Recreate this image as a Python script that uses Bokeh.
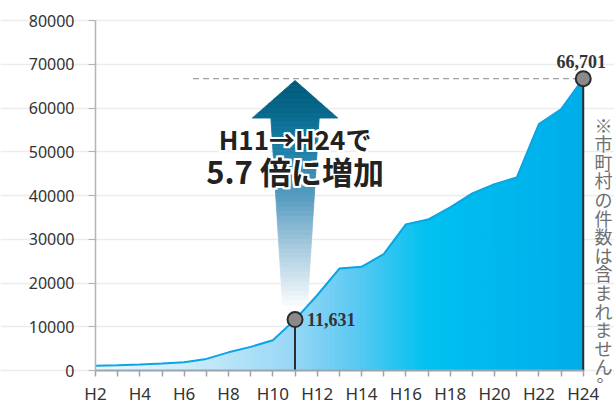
from bokeh.plotting import figure
from bokeh.models import Label, FixedTicker, NumeralTickFormatter, Range1d
from bokeh.embed import file_html
from bokeh.resources import INLINE

# ---- data ----
years = [2, 3, 4, 5, 6, 7, 8, 9, 10, 11, 12, 13, 14, 15, 16, 17, 18, 19, 20, 21, 22, 23, 24]
values = [1100, 1200, 1350, 1600, 1900, 2650, 4150, 5400, 6900, 11631, 17200, 23300,
          23700, 26600, 33400, 34500, 37300, 40500, 42600, 44100, 56300, 59700, 66701]
tick_labels = {y: ("H%d" % y if y % 2 == 0 else "") for y in years}
y_ticks = [0, 10000, 20000, 30000, 40000, 50000, 60000, 70000, 80000]
start_idx = 9   # H11
end_idx = 22    # H24
note_text = "※市町村の件数は含まれません。"
headline1 = "H11→H24で"
headline2 = "5.7 倍に増加"

# ---- style helpers ----
def lerp_stops(stops, x):
    if x <= stops[0][0]:
        return stops[0][1]
    for (xa, ca), (xb, cb) in zip(stops[:-1], stops[1:]):
        if xa <= x <= xb:
            t = (x - xa) / (xb - xa)
            return tuple(int(round(a + (b - a) * t)) for a, b in zip(ca, cb))
    return stops[-1][1]

def hexc(c):
    return "#%02x%02x%02x" % c

area_stops = [(2, (236, 247, 253)), (6, (206, 236, 250)), (11, (150, 215, 246)),
              (14, (85, 200, 242)), (17, (0, 193, 240)), (20, (0, 184, 237)),
              (24, (0, 173, 233))]

# ---- layout: the plot frame fills the whole canvas, axes are pinned at data positions ----
W, H = 614, 405
AXIS_PX = 95          # page column of the value axis (year H2)
TOP_PX = 20           # page row of 80000
ZERO_PX = 370         # page row of 0
X_PX_PER_YEAR = 22.17
Y_PX_PER_UNIT = (ZERO_PX - TOP_PX) / 80000.0
x_lo = years[0] - AXIS_PX / X_PX_PER_YEAR
x_hi = years[0] + (W - AXIS_PX) / X_PX_PER_YEAR
y_lo = -(H - ZERO_PX) / Y_PX_PER_UNIT
y_hi = 80000 + TOP_PX / Y_PX_PER_UNIT

p = figure(width=W, height=H, output_backend="svg", toolbar_location=None,
           x_range=Range1d(x_lo, x_hi), y_range=Range1d(y_lo, y_hi),
           min_border=0, min_border_left=0, min_border_right=0,
           min_border_top=0, min_border_bottom=0)
p.outline_line_color = None
p.background_fill_color = "white"
p.border_fill_color = "white"

# grid
p.xgrid.grid_line_color = None
p.ygrid.grid_line_color = "#ececec"
p.ygrid.grid_line_width = 1.5
p.ygrid.ticker = FixedTicker(ticks=y_ticks)
p.ygrid.bounds = (2, 24.1)

# axes
p.yaxis.fixed_location = years[0]
p.yaxis.ticker = FixedTicker(ticks=y_ticks)
p.yaxis.formatter = NumeralTickFormatter(format="0")
p.yaxis.bounds = (0, 80000)
p.yaxis.axis_line_color = "#b4b4b4"
p.yaxis.axis_line_width = 1.5
p.yaxis.major_tick_line_color = "#b4b4b4"
p.yaxis.major_tick_out = 7
p.yaxis.major_tick_in = 0
p.yaxis.minor_tick_line_color = None
p.yaxis.major_label_text_font = "Noto Sans"
p.yaxis.major_label_text_font_size = "16px"
p.yaxis.major_label_text_color = "#333333"
p.yaxis.major_label_standoff = 14

p.xaxis.fixed_location = 0
p.xaxis.ticker = FixedTicker(ticks=years)
p.xaxis.major_label_overrides = tick_labels
p.xaxis.bounds = (2, 24)
p.xaxis.axis_line_color = "#9aa5ad"
p.xaxis.axis_line_width = 2
p.xaxis.major_tick_line_color = "#9aa5ad"
p.xaxis.major_tick_line_width = 1.5
p.xaxis.major_tick_out = 6
p.xaxis.major_tick_in = 0
p.xaxis.minor_tick_line_color = None
p.xaxis.major_label_text_font = "Noto Sans"
p.xaxis.major_label_text_font_size = "17px"
p.xaxis.major_label_text_color = "#333333"
p.xaxis.major_label_standoff = 5

# ---- big arrow (behind area) ----
ax = years[start_idx]
ARROW_TIP, ARROW_NECK, ARROW_BOTTOM = 66300, 57700, 14900
HEAD_HW, SHAFT_TOP_HW, SHAFT_BOT_HW = 1.93, 1.09, 0.56
head_stops = [(0, (0, 88, 122)), (1, (10, 108, 143))]
shaft_stops = [(0, (10, 110, 148)), (0.17, (30, 127, 166)), (0.44, (91, 159, 194)),
               (0.65, (156, 195, 218)), (0.87, (213, 230, 240)), (1, (250, 252, 254))]
axs, ays, acs = [], [], []
NH = 8
for k in range(NH):
    f0, f1 = k / NH, (k + 1) / NH
    y0 = ARROW_TIP + (ARROW_NECK - ARROW_TIP) * f0
    y1 = ARROW_TIP + (ARROW_NECK - ARROW_TIP) * f1
    axs.append([ax - HEAD_HW * f0, ax + HEAD_HW * f0, ax + HEAD_HW * f1, ax - HEAD_HW * f1])
    ays.append([y0, y0, y1, y1])
    acs.append(hexc(lerp_stops(head_stops, (f0 + f1) / 2)))
NS = 40
for k in range(NS):
    f0, f1 = k / NS, (k + 1) / NS
    y0 = ARROW_NECK + (ARROW_BOTTOM - ARROW_NECK) * f0
    y1 = ARROW_NECK + (ARROW_BOTTOM - ARROW_NECK) * f1
    w0 = SHAFT_TOP_HW + (SHAFT_BOT_HW - SHAFT_TOP_HW) * f0
    w1 = SHAFT_TOP_HW + (SHAFT_BOT_HW - SHAFT_TOP_HW) * f1
    axs.append([ax - w0, ax + w0, ax + w1, ax - w1])
    ays.append([y0, y0, y1, y1])
    acs.append(hexc(lerp_stops(shaft_stops, (f0 + f1) / 2)))
p.patches(axs, ays, fill_color=acs, line_color=acs, line_width=0.8)

# ---- gradient area ----
xs, ys, cs = [], [], []
SUB = 5
for i in range(len(years) - 1):
    xa0, xb0 = years[i], years[i + 1]
    ya0, yb0 = values[i], values[i + 1]
    for k in range(SUB):
        t0, t1 = k / SUB, (k + 1) / SUB
        x0 = xa0 + (xb0 - xa0) * t0
        x1 = xa0 + (xb0 - xa0) * t1
        y0 = ya0 + (yb0 - ya0) * t0
        y1 = ya0 + (yb0 - ya0) * t1
        xs.append([x0, x0, x1, x1])
        ys.append([0, y0, y1, 0])
        cs.append(hexc(lerp_stops(area_stops, (x0 + x1) / 2)))
p.patches(xs, ys, fill_color=cs, line_color=cs, line_width=1.2)
p.line(years, values, line_color="#0aa5e4", line_width=2)

# dashed reference line at final value
p.line([6.4, years[end_idx]], [values[end_idx], values[end_idx]],
       line_color="#a0a0a0", line_width=1.2, line_dash="6 4")

# vertical lines + markers
mx = [years[start_idx], years[end_idx]]
my = [values[start_idx], values[end_idx]]
p.segment(x0=mx, y0=[0, 0], x1=mx, y1=my, line_color="#2b2b2b", line_width=2)
p.scatter(mx, my, size=15, fill_color="#8a8a8a", line_color="#2b2b2b", line_width=2)

# value labels
p.add_layout(Label(x=years[start_idx], y=values[start_idx], text=f"{values[start_idx]:,}",
                   x_offset=12, text_align="left", text_baseline="middle",
                   text_font="Liberation Serif", text_font_style="bold",
                   text_font_size="18px", text_color="#333333"))
p.add_layout(Label(x=years[end_idx], y=values[end_idx], text=f"{values[end_idx]:,}",
                   x_offset=-2, y_offset=11, text_align="center", text_baseline="bottom",
                   text_font="Liberation Serif", text_font_style="bold",
                   text_font_size="18px", text_color="#333333"))

# headline with white halo
def headline(text, y, size):
    for dx, dy in [(-2, 0), (2, 0), (0, -2), (0, 2), (-2, -2), (2, 2), (-2, 2), (2, -2)]:
        p.add_layout(Label(x=ax, y=y, text=text, x_offset=dx, y_offset=dy,
                           text_align="center", text_baseline="middle",
                           text_font="Noto Sans CJK JP", text_font_style="bold",
                           text_font_size=size, text_color="white"))
    p.add_layout(Label(x=ax, y=y, text=text, text_align="center", text_baseline="middle",
                       text_font="Noto Sans CJK JP", text_font_style="bold",
                       text_font_size=size, text_color="#222222"))

headline(headline1, 53000, "26px")
headline(headline2, 45800, "31px")

# vertical note on the right (screen units, frame = whole canvas, origin bottom-left)
NOTE_PX = 603
NOTE_TOP_PY = 124
NOTE_STEP = 18.6
for i, ch in enumerate(note_text):
    xo, yo = (2, 11) if ch == "。" else (0, 0)
    py = NOTE_TOP_PY + i * NOTE_STEP
    p.add_layout(Label(x=NOTE_PX + xo, y=H - py + yo,
                       x_units="screen", y_units="screen",
                       text=ch, text_align="center", text_baseline="middle",
                       text_font="Noto Sans CJK JP", text_font_size="18px",
                       text_color="#707070"))

open("out.html", "w").write(file_html(p, INLINE))
